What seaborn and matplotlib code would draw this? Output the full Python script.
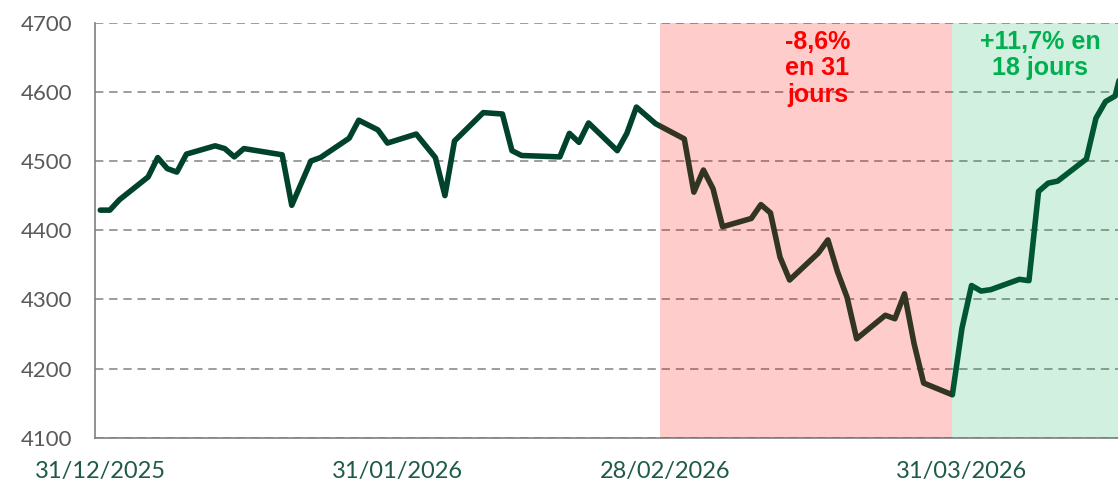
import pandas as pd
import seaborn as sns
import matplotlib.pyplot as plt

# --- data ---
dates = [
    "2025-12-31", "2026-01-01", "2026-01-02", "2026-01-05", "2026-01-06",
    "2026-01-07", "2026-01-08", "2026-01-09", "2026-01-12", "2026-01-13",
    "2026-01-14", "2026-01-15", "2026-01-19", "2026-01-20", "2026-01-22",
    "2026-01-23", "2026-01-26", "2026-01-27", "2026-01-29", "2026-01-30",
    "2026-02-02", "2026-02-04", "2026-02-05", "2026-02-06", "2026-02-09",
    "2026-02-11", "2026-02-12", "2026-02-13", "2026-02-17", "2026-02-18",
    "2026-02-19", "2026-02-20", "2026-02-23", "2026-02-24", "2026-02-25",
    "2026-02-26", "2026-02-27", "2026-03-02", "2026-03-03", "2026-03-04",
    "2026-03-05", "2026-03-06", "2026-03-09", "2026-03-10", "2026-03-11",
    "2026-03-12", "2026-03-13", "2026-03-16", "2026-03-17", "2026-03-18",
    "2026-03-19", "2026-03-20", "2026-03-23", "2026-03-24", "2026-03-25",
    "2026-03-26", "2026-03-27", "2026-03-30", "2026-03-31", "2026-04-01",
    "2026-04-02", "2026-04-03", "2026-04-06", "2026-04-07", "2026-04-08",
    "2026-04-09", "2026-04-10", "2026-04-13", "2026-04-14", "2026-04-15",
    "2026-04-16", "2026-04-17",
]
values = [
    4429, 4429, 4444, 4477, 4505,
    4489, 4484, 4510, 4522, 4518,
    4506, 4518, 4509, 4436, 4500,
    4505, 4533, 4559, 4545, 4526,
    4539, 4505, 4450, 4529, 4570,
    4568, 4515, 4508, 4506, 4540,
    4527, 4555, 4515, 4540, 4578,
    4566, 4554, 4532, 4455, 4487,
    4460, 4405, 4417, 4437, 4425,
    4361, 4328, 4367, 4386, 4340,
    4303, 4243, 4277, 4272, 4308,
    4236, 4179, 4162, 4258, 4320,
    4312, 4314, 4329, 4327, 4456,
    4468, 4471, 4503, 4562, 4586,
    4594, 4649,
]
tick_labels = ["31/12/2025", "31/01/2026", "28/02/2026", "31/03/2026"]
y_ticks = [4100, 4200, 4300, 4400, 4500, 4600, 4700]

drop_start, drop_end = "2026-02-27 12:00", "2026-03-30"
drop_text = "-8,6%\nen 31\njours"
rally_text = "+11,7% en\n18 jours"

df = pd.DataFrame({"date": pd.to_datetime(dates), "value": values})

sns.set_style("white")
plt.rcParams["font.family"] = ["Lato", "DejaVu Sans"]

fig = plt.figure(figsize=(11.18, 4.86), dpi=100)
ax = fig.add_axes([0.0854, 0.0994, 0.9146, 0.8539])

x_start = pd.Timestamp("2025-12-31") - pd.Timedelta(hours=12)
x_end = pd.Timestamp("2025-12-31") + pd.Timedelta(days=106.3)

sns.lineplot(data=df, x="date", y="value", color="#00432A", linewidth=4.0, ax=ax, zorder=3)

# shaded phases drawn over the line, like the original
ax.axvspan(pd.Timestamp(drop_start), pd.Timestamp(drop_end), color="#FF0000", alpha=0.2, lw=0, zorder=4)
ax.axvspan(pd.Timestamp(drop_end), x_end, color="#00B050", alpha=0.18, lw=0, zorder=4)

ax.text(pd.Timestamp("2026-03-15 22:00"), 4690, drop_text, color="#FF0000", fontsize=18,
        fontweight="bold", family=["Liberation Sans"], ha="center", va="top",
        linespacing=1.15, zorder=5)
ax.text(pd.Timestamp("2026-04-08 04:00"), 4690, rally_text, color="#00B050", fontsize=18,
        fontweight="bold", family=["Liberation Sans"], ha="center", va="top",
        linespacing=1.15, zorder=5)

ax.set_xlim(x_start, x_end)
ax.set_ylim(4100, 4700)
ax.set_yticks(y_ticks)
ax.yaxis.grid(True, linestyle=(0, (5, 3.5)), color="#8C8C8C", linewidth=1.2)
ax.xaxis.grid(False)

label_dates = pd.to_datetime(tick_labels, format="%d/%m/%Y")
ax.set_xticks(label_dates - pd.Timedelta(hours=12))
ax.set_xticklabels([])
ax.set_xticks(label_dates, minor=True)
ax.set_xticklabels(tick_labels, minor=True)
ax.tick_params(axis="x", which="major", direction="out", length=6, width=1.2, color="#7F7F7F")
ax.tick_params(axis="x", which="minor", length=0, pad=17, labelsize=17, labelcolor="#1F5A48")
ax.tick_params(axis="y", direction="inout", length=9, width=1.2, color="#7F7F7F",
               pad=12, labelsize=16, labelcolor="#595959")

ax.set_xlabel("")
ax.set_ylabel("")
for side in ["top", "right"]:
    ax.spines[side].set_visible(False)
for side in ["left", "bottom"]:
    ax.spines[side].set_color("#7F7F7F")
    ax.spines[side].set_linewidth(1.2)

fig.savefig("out.png", dpi=100)
